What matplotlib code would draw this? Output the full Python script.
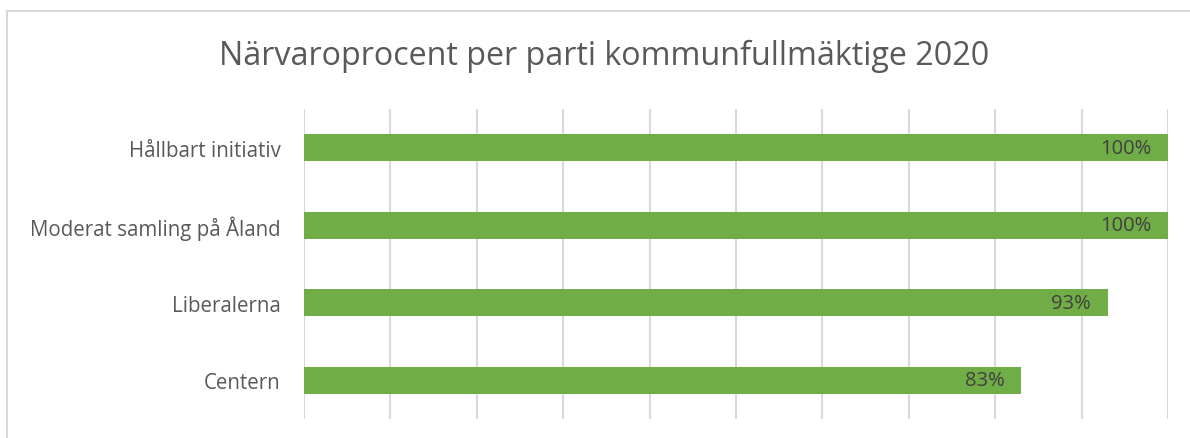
import matplotlib.pyplot as plt
from matplotlib.patches import Rectangle

partier = ['Hållbart initiativ', 'Moderat samling på Åland', 'Liberalerna', 'Centern']
narvaro = [100, 100, 93, 83]

plt.rcParams['font.family'] = ['Open Sans', 'DejaVu Sans']

W, H = 1190, 439
fig = plt.figure(figsize=(W / 100, H / 100), dpi=100)

# ram runt diagrammet (går ut över höger- och nederkant)
fig.patches.append(Rectangle((7 / W, -0.1), 1.2, 1 - 12 / H + 0.1, transform=fig.transFigure,
                             fill=False, edgecolor='#D9D9D9', linewidth=1.5))

ax = fig.add_axes([304 / W, 1 - 420 / H, (1168 - 304) / W, (420 - 110) / H])

y = range(len(partier))
ax.barh(y, narvaro, height=0.35, color='#70AD47', zorder=3)
ax.set_ylim(len(partier) - 0.5, -0.5)
ax.set_xlim(0, 100)
ax.set_xticks(range(0, 101, 10))
ax.xaxis.grid(True, color='#D9D9D9', linewidth=1.5, zorder=0)
ax.tick_params(axis='x', length=0, labelbottom=False)
ax.tick_params(axis='y', length=0, pad=17, labelsize=14.8, labelcolor='#595959')
ax.set_yticks(list(y))
ax.set_yticklabels(partier)
for s in ax.spines.values():
    s.set_visible(False)

for i, v in enumerate(narvaro):
    ax.text(v - 1.9, i, f'{v}%', ha='right', va='center', fontsize=14.5, color='#404040', zorder=4)

fig.text(604 / W, 1 - 56 / H, 'Närvaroprocent per parti kommunfullmäktige 2020',
         ha='center', va='center', fontsize=23.2, color='#595959')

fig.savefig('out.png', dpi=100)
